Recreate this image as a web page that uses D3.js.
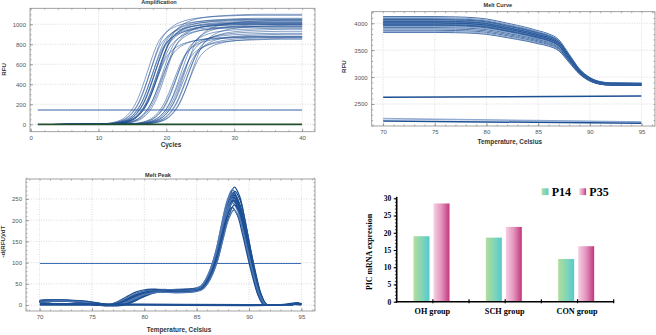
<!DOCTYPE html>
<html>
<head>
<meta charset="utf-8">
<script src="https://cdn.jsdelivr.net/npm/d3@7"></script>
<style>
  body { margin: 0; background: #fff; }
  svg { display: block; font-family: "Liberation Sans", Arial, sans-serif; }
</style>
</head>
<body>
<div id="chart"></div>
<script>
// ---------- data ----------
// amplification: one curve shape (fraction of plateau vs cycles from midpoint), then mid cycle + plateau per well
const ampShapeDx   = [-14, -7, -5.5, -4.5, -3.5, -2.5, -1.5, -0.75, 0, 0.75, 1.5, 2.5, 3.5, 5, 7, 10, 15, 30];
const ampShapeFrac = [0, 0.004, 0.012, 0.027, 0.057, 0.12, 0.23, 0.354, 0.5, 0.646, 0.77, 0.86, 0.91, 0.95, 0.975, 0.99, 1, 1];
const ampMid     = [17.2, 17.5, 17.7, 17.9, 18.0, 18.2, 18.3, 18.4, 18.5, 18.6, 18.7, 18.8, 18.9, 19.0, 19.2, 19.4, 19.6, 19.9,
                    21.1, 21.4, 21.6, 21.9, 22.1, 22.3, 22.5, 22.7, 22.9, 23.1, 23.3, 23.6];
const ampPlateau = [1050, 1010, 1090, 980, 1040, 1000, 1020, 1060, 870, 1000, 1030, 970, 1050, 1100, 880, 1010, 980, 1020,
                    880, 910, 960, 850, 1000, 930, 870, 1040, 900, 950, 860, 990];
const ampThreshold = 143;

// melt curve: normalised shape between end level and start level
const meltTemps = [70, 75, 77, 78, 80, 82, 84, 85, 86, 87, 88, 89, 90, 91, 92, 95];
const meltShape = [1.0, 1.0, 0.995, 0.99, 0.964, 0.90, 0.83, 0.786, 0.74, 0.65, 0.43, 0.21, 0.08, 0.018, 0.0, -0.005];
const meltStart = [4125, 4105, 4085, 4070, 4060, 4050, 4040, 4030, 4022, 4015, 4008, 4000, 3992, 3985, 3975, 3965,
                   3955, 3940, 3920, 3895, 3870, 3850, 3830];
const meltEnd   = [2895, 2890, 2888, 2885, 2882, 2880, 2878, 2876, 2874, 2872, 2870, 2868, 2866, 2864, 2862, 2860,
                   2858, 2856, 2855, 2853, 2852, 2850, 2848];
const meltFlatStart = [2624, 2234, 2222, 2184];
const meltFlatEnd   = [2649, 2171, 2165, 2141];

// melt peak: one shape, per-well height and temperature offsets
const peakTemps = [68, 70, 71, 72, 73, 74, 75, 76, 77, 78, 79, 80, 81, 82, 83, 84,
                   85, 85.5, 86, 86.5, 87, 87.5, 88, 88.5, 89, 89.5, 90, 90.5, 91, 91.5, 92, 93, 94, 94.5, 95, 97];
const peakShape = [8, 8, 11, 11, 10, 8, 4, 0, -1, 6, 18, 29, 34, 34, 33, 34,
                   37, 42, 58, 85, 125, 180, 230, 255, 235, 185, 125, 70, 25, 2, 0, 0, 1, 4, 2, 2];
const peakHeights  = [278, 272, 268, 265, 262, 260, 258, 256, 254, 252, 250, 248, 245, 241, 236, 230, 224];
const shoulderShift = [-0.7, 0.5, -0.3, 0.2, 0.8, -0.5, 0.0, 0.4, -0.1, 0.6, -0.6, 0.3, -0.2, 0.1, 0.7, -0.4, 0.2];
const peakShift     = [0.1, -0.1, 0.15, 0.0, -0.15, 0.05, 0.1, -0.05, 0.0, 0.12, -0.1, 0.05, 0.0, -0.08, 0.1, -0.12, 0.05];
const peakFlatTemps = [70, 80, 90, 93, 94.5, 95];
const peakFlatVals  = [[2, 1, 0, 0, 3, 2], [0, 0, -1, 0, 1, 0], [4, 2, 1, 1, 5, 3]];
const peakThreshold = 98;

// bar chart
const groups = ["OH group", "SCH group", "CON group"];
const series = ["P14", "P35"];
const p14 = [19.0, 18.6, 12.4];
const p35 = [28.5, 21.7, 16.1];

// ---------- drawing ----------
const W = 656, H = 335;
const svg = d3.select("#chart").append("svg").attr("width", W).attr("height", H);
const defs = svg.append("defs");
const lineBlue = "#1d4f93";

function makePanel(p) {
    const x = d3.scaleLinear().domain(p.xDomain).range([p.left, p.right]);
    const y = d3.scaleLinear().domain(p.yDomain).range([p.bottom, p.top]);
    const g = svg.append("g");

    // dotted grid
    g.selectAll(".gx").data(p.xTicks).join("line")
        .attr("x1", d => x(d)).attr("x2", d => x(d))
        .attr("y1", p.top).attr("y2", p.bottom)
        .attr("stroke", "#c4c4c4").attr("stroke-width", 0.6).attr("stroke-dasharray", "1,1.5");
    g.selectAll(".gy").data(p.yTicks).join("line")
        .attr("x1", p.left).attr("x2", p.right)
        .attr("y1", d => y(d)).attr("y2", d => y(d))
        .attr("stroke", "#c4c4c4").attr("stroke-width", 0.6).attr("stroke-dasharray", "1,1.5");

    // ticks on all four sides, pointing inward
    const addAxis = (axis, tr, labels) => {
        const a = g.append("g").attr("transform", tr).call(axis);
        a.select(".domain").remove();
        a.selectAll("line").attr("stroke", "#777").attr("stroke-width", 0.6);
        a.selectAll("text").attr("fill", "#555").style("font-size", "6px");
        if (!labels) a.selectAll("text").remove();
    };
    const xMinor = d3.range(p.xDomain[0], p.xDomain[1], p.xMinor).map(v => Math.ceil(v / p.xMinor) * p.xMinor);
    const yMinor = d3.range(p.yDomain[0], p.yDomain[1], p.yMinor).map(v => Math.ceil(v / p.yMinor) * p.yMinor);
    addAxis(d3.axisBottom(x).tickValues(xMinor).tickSize(-1.5).tickFormat(""), `translate(0,${p.bottom})`, false);
    addAxis(d3.axisTop(x).tickValues(xMinor).tickSize(-1.5).tickFormat(""), `translate(0,${p.top})`, false);
    addAxis(d3.axisLeft(y).tickValues(yMinor).tickSize(-1.5).tickFormat(""), `translate(${p.left},0)`, false);
    addAxis(d3.axisRight(y).tickValues(yMinor).tickSize(-1.5).tickFormat(""), `translate(${p.right},0)`, false);
    addAxis(d3.axisBottom(x).tickValues(p.xTicks).tickSize(-3).tickPadding(4).tickFormat(d3.format("d")),
        `translate(0,${p.bottom})`, true);
    addAxis(d3.axisLeft(y).tickValues(p.yTicks).tickSize(-3).tickPadding(4).tickFormat(d3.format("d")),
        `translate(${p.left},0)`, true);

    g.append("rect")
        .attr("x", p.left).attr("y", p.top)
        .attr("width", p.right - p.left).attr("height", p.bottom - p.top)
        .attr("fill", "none").attr("stroke", "#8c8c8c").attr("stroke-width", 0.8);

    // titles
    g.append("text").attr("x", (p.left + p.right) / 2 + p.titleDx).attr("y", p.titleY)
        .attr("text-anchor", "middle").attr("font-weight", "bold").style("font-size", "5.6px")
        .attr("fill", "#333").text(p.title);
    g.append("text").attr("x", (p.left + p.right) / 2 + p.xLabelDx).attr("y", p.xLabelY)
        .attr("text-anchor", "middle").attr("font-weight", "bold").style("font-size", "6.4px")
        .attr("fill", "#333").text(p.xLabel);
    g.append("text").attr("transform", `translate(${p.yLabelX},${p.yLabelY}) rotate(-90)`)
        .attr("text-anchor", "middle").attr("font-weight", "bold").style("font-size", "6.2px")
        .attr("fill", "#333").text(p.yLabel);

    const id = "clip" + p.id;
    defs.append("clipPath").attr("id", id).append("rect")
        .attr("x", x(p.clipX[0])).attr("y", p.top)
        .attr("width", x(p.clipX[1]) - x(p.clipX[0])).attr("height", p.bottom - p.top);
    const plot = g.append("g").attr("clip-path", `url(#${id})`);
    return { x, y, plot };
}

// ----- Amplification -----
const A = makePanel({
    id: "A", left: 30, right: 315, top: 8.3, bottom: 131.7,
    xDomain: [-0.1, 41.9], yDomain: [-74, 1160],
    xTicks: [0, 10, 20, 30, 40], yTicks: [0, 200, 400, 600, 800, 1000],
    xMinor: 2, yMinor: 50,
    title: "Amplification", titleY: 4.3, titleDx: -13.5,
    xLabel: "Cycles", xLabelY: 146.5, xLabelDx: -1.5,
    yLabel: "RFU", yLabelX: 6, yLabelY: 69.5,
    clipX: [1, 40]
});
const ampLine = d3.line().x(d => A.x(d[0])).y(d => A.y(d[1])).curve(d3.curveMonotoneX);
A.plot.selectAll(".amp").data(ampMid.map((m, i) => ampShapeDx.map((dx, j) => [m + dx, ampPlateau[i] * ampShapeFrac[j]])))
    .join("path").attr("d", ampLine)
    .attr("fill", "none").attr("stroke", lineBlue).attr("stroke-width", 0.6).attr("stroke-opacity", 0.9);
A.plot.append("path").attr("d", ampLine([[1, 0], [40, 0]]))
    .attr("stroke", "#22502f").attr("stroke-width", 1.8).attr("fill", "none");
A.plot.append("path").attr("d", ampLine([[1, ampThreshold], [40, ampThreshold]]))
    .attr("stroke", "#3562a8").attr("stroke-width", 1).attr("fill", "none");

// ----- Melt Curve -----
const B = makePanel({
    id: "B", left: 371.7, right: 655, top: 11.7, bottom: 126,
    xDomain: [68.9, 96.3], yDomain: [2091, 4215],
    xTicks: [70, 75, 80, 85, 90, 95], yTicks: [2500, 3000, 3500, 4000],
    xMinor: 1, yMinor: 100,
    title: "Melt Curve", titleY: 7.3, titleDx: -15.5,
    xLabel: "Temperature, Celsius", xLabelY: 143.5, xLabelDx: -3.5,
    yLabel: "RFU", yLabelX: 346, yLabelY: 66.7,
    clipX: [70, 95]
});
const meltLine = d3.line().x(d => B.x(d[0])).y(d => B.y(d[1])).curve(d3.curveMonotoneX);
B.plot.selectAll(".melt").data(meltStart.map((s, i) => meltTemps.map((t, j) => [t, meltEnd[i] + (s - meltEnd[i]) * meltShape[j]])))
    .join("path").attr("d", meltLine)
    .attr("fill", "none").attr("stroke", (d, i) => i % 4 === 1 ? "#6f92c4" : lineBlue)
    .attr("stroke-width", 0.8);
B.plot.selectAll(".flat").data(meltFlatStart.map((s, i) => [[70, s], [95, meltFlatEnd[i]]]))
    .join("path").attr("d", meltLine)
    .attr("fill", "none").attr("stroke", (d, i) => i === 1 || i === 2 ? "#7c9ccc" : lineBlue)
    .attr("stroke-width", (d, i) => i === 0 || i === 3 ? 1.5 : 0.8);

// ----- Melt Peak -----
const C = makePanel({
    id: "C", left: 26, right: 315, top: 179, bottom: 311,
    xDomain: [68.7, 96.3], yDomain: [-14, 297],
    xTicks: [70, 75, 80, 85, 90, 95], yTicks: [0, 50, 100, 150, 200, 250],
    xMinor: 1, yMinor: 10,
    title: "Melt Peak", titleY: 177.3, titleDx: -12.5,
    xLabel: "Temperature, Celsius", xLabelY: 332, xLabelDx: 8.5,
    yLabel: "-d(RFU)/dT", yLabelX: 5, yLabelY: 241.7,
    clipX: [70, 95]
});
const peakLine = d3.line().x(d => C.x(d[0])).y(d => C.y(d[1])).curve(d3.curveCatmullRom);
const peakCurves = peakHeights.map((h, i) => peakTemps.map((t, j) =>
    [t + (t <= 84 ? shoulderShift[i] : peakShift[i]), peakShape[j] * h / 255]));
C.plot.append("line")
    .attr("x1", C.x(70)).attr("x2", C.x(95))
    .attr("y1", C.y(peakThreshold)).attr("y2", C.y(peakThreshold))
    .attr("stroke", "#3f6fb6").attr("stroke-width", 1.1);
C.plot.selectAll(".peak").data(peakCurves)
    .join("path").attr("d", peakLine)
    .attr("fill", "none").attr("stroke", (d, i) => i % 3 === 1 ? "#4f78b3" : lineBlue)
    .attr("stroke-width", 1.3);
C.plot.selectAll(".pflat").data(peakFlatVals.map(v => peakFlatTemps.map((t, j) => [t, v[j]])))
    .join("path").attr("d", peakLine)
    .attr("fill", "none").attr("stroke", lineBlue).attr("stroke-width", 1.4);

// ----- Bar chart -----
const serif = "'Liberation Serif', 'Times New Roman', serif";
const xb = d3.scaleBand().domain(groups).range([396.7, 613.7]);
const xs = d3.scaleBand().domain(series).range([16.8, 52.8]).paddingInner(0.2);
const yb = d3.scaleLinear().domain([0, 30]).range([301.7, 198.3]);

const grads = { P14: ["#b2dd9d", "#86d6b4", "#52cbd0"], P35: ["#f6cfe3", "#e393bd", "#c2367a"] };
Object.entries(grads).forEach(([k, cols]) => {
    const lg = defs.append("linearGradient").attr("id", "g" + k).attr("x1", 0).attr("x2", 1).attr("y1", 0).attr("y2", 0);
    cols.forEach((c, i) => lg.append("stop").attr("offset", i / (cols.length - 1)).attr("stop-color", c));
});

const barData = [];
groups.forEach((g, i) => {
    barData.push({ group: g, key: "P14", value: p14[i] });
    barData.push({ group: g, key: "P35", value: p35[i] });
});
svg.append("g").selectAll("rect").data(barData).join("rect")
    .attr("x", d => xb(d.group) + xs(d.key))
    .attr("y", d => yb(d.value))
    .attr("width", xs.bandwidth())
    .attr("height", d => yb(0) - yb(d.value))
    .attr("fill", d => `url(#g${d.key})`);

// y axis
const yAxMinor = svg.append("g").attr("transform", "translate(396.7,0)")
    .call(d3.axisLeft(yb).tickValues(d3.range(0, 31, 1)).tickSize(1.8).tickFormat(""));
yAxMinor.select(".domain").remove();
yAxMinor.selectAll("line").attr("stroke", "#000").attr("stroke-width", 0.7);
const yAx = svg.append("g").attr("transform", "translate(396.7,0)")
    .call(d3.axisLeft(yb).tickValues(d3.range(0, 31, 5)).tickSize(3).tickPadding(2.5));
yAx.select(".domain").remove();
yAx.selectAll("line").attr("stroke", "#000").attr("stroke-width", 1);
yAx.selectAll("text").attr("fill", "#000").attr("font-weight", "bold")
    .style("font-family", serif).style("font-size", "7.5px");
svg.append("line").attr("x1", 396.7).attr("x2", 396.7).attr("y1", yb(30) - 1.5).attr("y2", yb(0) + 0.8)
    .attr("stroke", "#000").attr("stroke-width", 1.6);

// x axis
svg.append("line").attr("x1", 396).attr("x2", 614).attr("y1", yb(0)).attr("y2", yb(0))
    .attr("stroke", "#000").attr("stroke-width", 1.6);
svg.append("g").selectAll("line")
    .data(groups.flatMap(g => [xb(g) + xb.bandwidth() / 2, xb(g) + xb.bandwidth()]))
    .join("line")
    .attr("x1", d => d).attr("x2", d => d)
    .attr("y1", yb(0) - 2.5).attr("y2", yb(0) + 1.5)
    .attr("stroke", "#000").attr("stroke-width", 1.2);
svg.append("g").selectAll("text").data(groups).join("text")
    .attr("x", d => xb(d) + xb.bandwidth() / 2 - 0.5)
    .attr("y", 314)
    .attr("text-anchor", "middle").attr("font-weight", "bold")
    .style("font-family", serif).style("font-size", "8.2px").text(d => d);

svg.append("text").attr("transform", "translate(372,252) rotate(-90)")
    .attr("text-anchor", "middle").attr("font-weight", "bold")
    .style("font-family", serif).style("font-size", "7.9px").text("PIC mRNA expression");

// legend
const legX = [541.7, 579.3];
series.forEach((s, i) => {
    svg.append("rect").attr("x", legX[i]).attr("y", 188.3).attr("width", 6.8).attr("height", 6.8)
        .attr("fill", `url(#g${s})`);
    svg.append("text").attr("x", legX[i] + 10).attr("y", 195.6)
        .attr("font-weight", "bold").style("font-family", serif).style("font-size", "12px").text(s);
});
</script>
</body>
</html>
